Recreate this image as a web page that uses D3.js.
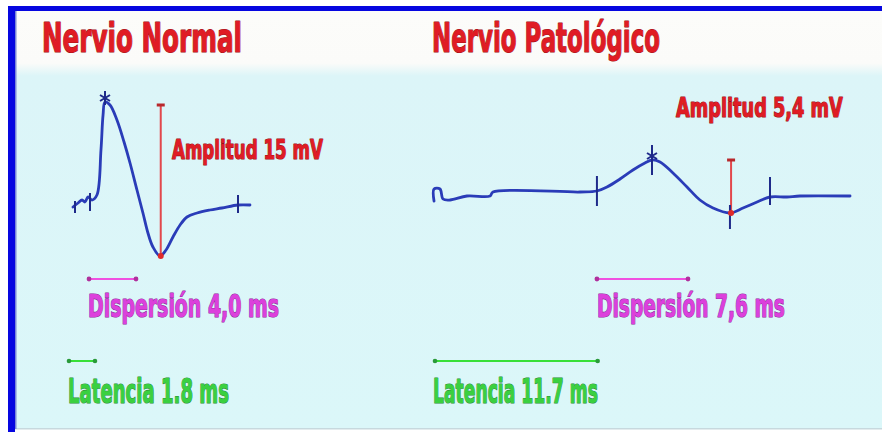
<!DOCTYPE html>
<html><head><meta charset="utf-8">
<script src="https://cdn.jsdelivr.net/npm/d3@7"></script>
<style>
html,body{margin:0;padding:0;background:#fff;}
svg{display:block;}
</style></head>
<body>
<svg id="c" width="882" height="432"></svg>
<script>
// ---------- DATA ----------
const titles = ["Nervio Normal", "Nervio Patológico"];
const amplitudeLabels = ["Amplitud 15 mV", "Amplitud 5,4 mV"];
const dispersionLabels = ["Dispersión 4,0 ms", "Dispersión 7,6 ms"];
const latencyLabels = ["Latencia 1.8 ms", "Latencia 11.7 ms"];

// waveform traces: [time ms, amplitude mV]
const normalTrace = [
  [0.29,-0.2],[0.65,0.2],[0.94,0.5],[1.15,0.3],[1.37,0.8],[1.65,0.5],[2.01,1.0],
  [2.3,5.5],[2.45,9.0],[2.59,10.3],[2.95,10.0],[3.45,8.5],[3.96,6.3],[4.39,4.2],
  [4.89,1.5],[5.32,-0.8],[5.68,-2.8],[6.04,-4.2],[6.55,-5.1],[6.98,-4.5],[7.48,-3.2],
  [7.99,-2.0],[8.49,-1.2],[9.21,-0.8],[10.14,-0.5],[11.0,-0.3],[12.16,0],[13.02,0]
];
const pathTrace = [
  [-0.07,-0.6],[-0.07,0.6],[0.36,0.6],[0.58,-0.4],[1.08,-0.5],[2.3,-0.1],[3.96,-0.1],
  [4.17,0.3],[10.43,0.3],[11.65,0.4],[12.37,0.8],[13.31,1.6],[14.24,2.5],[15.1,3.2],
  [15.61,3.5],[16.19,3.3],[17.12,2.2],[18.13,0.8],[19.06,-0.5],[20.0,-1.3],[21.22,-1.8],
  [22.16,-1.3],[23.17,-0.7],[24.1,-0.2],[25.32,-0.2],[26.26,-0.1],[29.86,-0.1]
];
// vertical tick marks on traces: [time, centre mV, half-height mV]
const normalTicks = [[0.43,-0.2,0.6],[1.51,0.3,0.9],[12.16,0.1,0.9]];
const pathTicks = [[11.65,0.4,1.5],[15.61,3.5,1.5],[21.22,-2.2,1.2],[24.1,0.4,1.4]];
// peak asterisks [time, mV]
const normalPeak = [2.59, 10.3];
const pathPeak = [15.61, 3.5];
// amplitude markers [time, top mV, bottom mV]
const normalAmp = [6.6, 10.0, -5.1];
const pathAmp = [21.3, 3.5, -1.8];
// dispersion markers [start ms, end ms]
const normalDisp = [1.44, 4.82];
const pathDisp = [11.65, 18.2];
// latency markers [start ms, end ms]
const normalLat = [0, 1.87];
const pathLat = [0, 11.7];

// ---------- LAYOUT ----------
const svg = d3.select("#c");
const W = 882, H = 432;
const pxPerMs = 13.9, pxPerMv = 10;

svg.append("rect").attr("x",0).attr("y",0).attr("width",W).attr("height",H).attr("fill","#ffffff");
const grad = svg.append("defs").append("linearGradient").attr("id","bg").attr("x1",0).attr("y1",0).attr("x2",0).attr("y2",1);
grad.append("stop").attr("offset","0").attr("stop-color","#fcfcfa");
grad.append("stop").attr("offset","0.125").attr("stop-color","#fbfbf9");
grad.append("stop").attr("offset","0.155").attr("stop-color","#dcf5f8");
grad.append("stop").attr("offset","1").attr("stop-color","#dbf7f9");
svg.append("rect").attr("x",15).attr("y",11).attr("width",W-15).attr("height",418).attr("fill","url(#bg)");
svg.append("rect").attr("x",15).attr("y",428).attr("width",W-15).attr("height",1.5).attr("fill","#c7d9de");
svg.append("rect").attr("x",8).attr("y",6).attr("width",W-8).attr("height",5).attr("fill","#0606e0");
svg.append("rect").attr("x",8).attr("y",6).attr("width",7).attr("height",H-6).attr("fill","#0606e0");
svg.append("rect").attr("x",15).attr("y",11).attr("width",1.5).attr("height",418).attr("fill","#7a86d8");

const panels = [
  {title:titles[0], x0:69, base:205, trace:normalTrace, ticks:normalTicks, peak:normalPeak, amp:normalAmp,
   disp:normalDisp, lat:normalLat, ampLab:amplitudeLabels[0], dispLab:dispersionLabels[0], latLab:latencyLabels[0],
   titleX:42, titleW:200, ampX:172, ampY:159, ampW:151, dispX:88, dispW:191, latX:68, latW:161},
  {title:titles[1], x0:435, base:195, trace:pathTrace, ticks:pathTicks, peak:pathPeak, amp:pathAmp,
   disp:pathDisp, lat:pathLat, ampLab:amplitudeLabels[1], dispLab:dispersionLabels[1], latLab:latencyLabels[1],
   titleX:432, titleW:228, ampX:676, ampY:117, ampW:167, dispX:597, dispW:188, latX:433, latW:165}
];

const font = "'Liberation Sans Narrow','DejaVu Sans Condensed','Arial Narrow',sans-serif";
function label(g, txt, x, y, size, w, fill, stroke){
  const t = g.append("text").attr("x",0).attr("y",0).text(txt)
    .attr("font-family",font).attr("font-weight","bold").attr("font-size",size)
    .attr("fill",fill).attr("stroke",stroke).attr("stroke-width",1.2)
    .attr("paint-order","stroke").attr("stroke-linejoin","round");
  const nat = t.node().getComputedTextLength();
  const sx = nat > 0 ? w / nat : 1;
  t.attr("transform", `translate(${x},${y}) scale(${sx},1)`);
}

panels.forEach(p => {
  const g = svg.append("g");
  const x = d3.scaleLinear().domain([0, 30]).range([p.x0, p.x0 + 30*pxPerMs]);
  const y = d3.scaleLinear().domain([0, 10]).range([p.base, p.base - 10*pxPerMv]);

  label(g, p.title, p.titleX, 52, 41, p.titleW, "#e01c24", "#9a1016");

  g.append("line").attr("x1",x(p.amp[0])).attr("x2",x(p.amp[0]))
    .attr("y1",y(p.amp[1])).attr("y2",y(p.amp[2]))
    .attr("stroke","#e2484c").attr("stroke-width",2);
  g.append("line").attr("x1",x(p.amp[0])-4).attr("x2",x(p.amp[0])+4)
    .attr("y1",y(p.amp[1])).attr("y2",y(p.amp[1]))
    .attr("stroke","#b8282c").attr("stroke-width",3);

  const line = d3.line().x(d=>x(d[0])).y(d=>y(d[1])).curve(d3.curveCatmullRom.alpha(0.5));
  g.append("path").datum(p.trace).attr("d",line).attr("fill","none")
    .attr("stroke","#2a3cb8").attr("stroke-width",2.8).attr("stroke-linejoin","round").attr("stroke-linecap","round");

  g.selectAll(".tk").data(p.ticks).enter().append("line")
    .attr("x1",d=>x(d[0])).attr("x2",d=>x(d[0]))
    .attr("y1",d=>y(d[1]+d[2])).attr("y2",d=>y(d[1]-d[2]))
    .attr("stroke","#1e2a8a").attr("stroke-width",2);

  const px = x(p.peak[0]), py = y(p.peak[1]) - 3;
  [[0,-8,0,6],[-5,-4,5,2],[5,-4,-5,2]].forEach(s => {
    g.append("line").attr("x1",px+s[0]).attr("y1",py+s[1]).attr("x2",px+s[2]).attr("y2",py+s[3])
      .attr("stroke","#1e2a8a").attr("stroke-width",2);
  });

  g.append("circle").attr("cx",x(p.amp[0])).attr("cy",y(p.amp[2])).attr("r",3).attr("fill","#e02a2a");

  label(g, p.ampLab, p.ampX, p.ampY, 27, p.ampW, "#e01c24", "#9a1016");

  const dy = 279;
  g.append("line").attr("x1",x(p.disp[0])).attr("x2",x(p.disp[1])).attr("y1",dy).attr("y2",dy)
    .attr("stroke","#f050e0").attr("stroke-width",2);
  g.selectAll(".dd").data(p.disp).enter().append("circle")
    .attr("cx",d=>x(d)).attr("cy",dy).attr("r",2.4).attr("fill","#b0309c");
  label(g, p.dispLab, p.dispX, 317, 32, p.dispW, "#dc40dc", "#8e2a9a");

  const ly = 361;
  g.append("line").attr("x1",x(p.lat[0])).attr("x2",x(p.lat[1])).attr("y1",ly).attr("y2",ly)
    .attr("stroke","#38e038").attr("stroke-width",2);
  g.selectAll(".ld").data(p.lat).enter().append("circle")
    .attr("cx",d=>x(d)).attr("cy",ly).attr("r",2.3).attr("fill","#2a9a3a");
  label(g, p.latLab, p.latX, 403, 33, p.latW, "#3ad040", "#2a8a3a");
});
</script>
</body></html>
